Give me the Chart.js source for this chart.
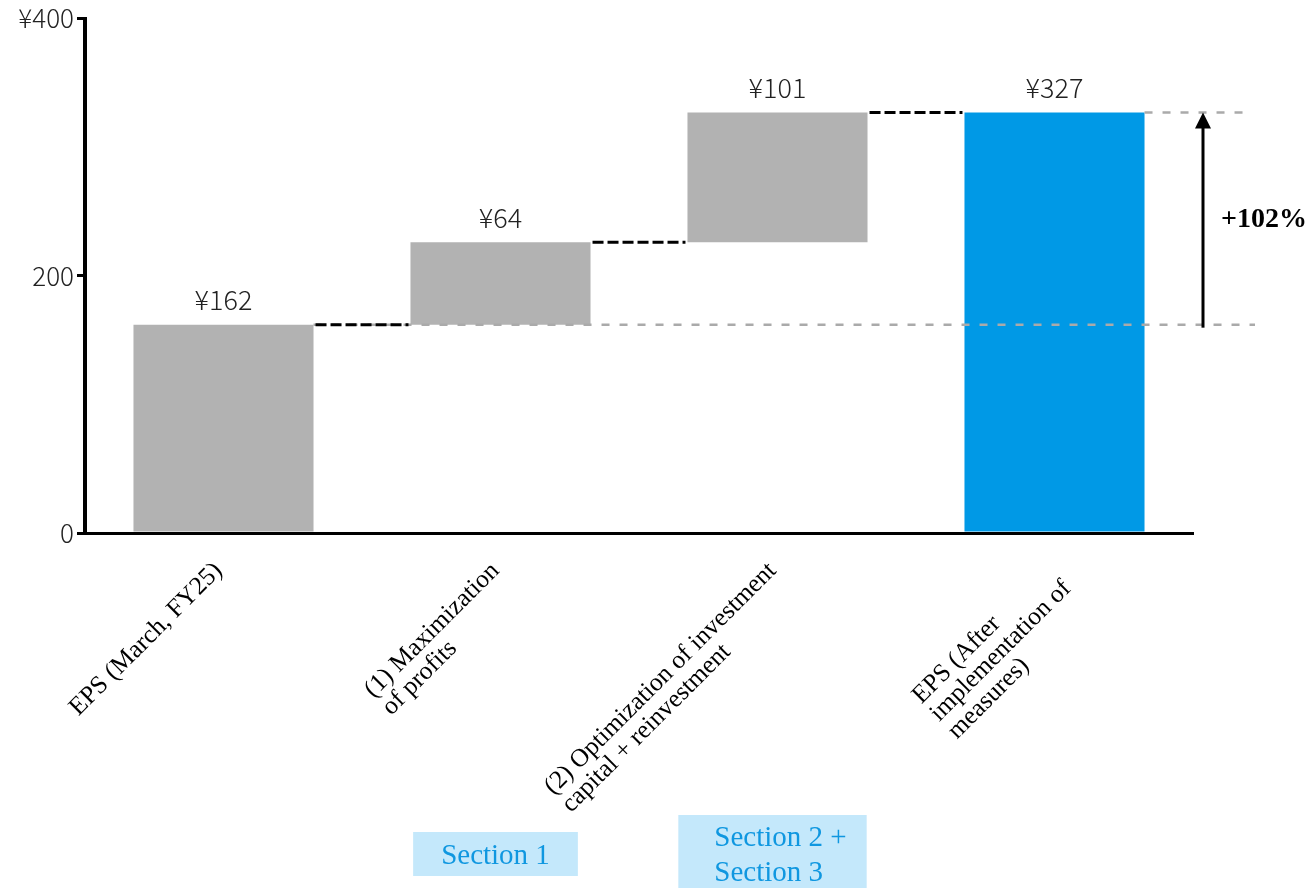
<!DOCTYPE html>
<html>
<head>
<meta charset="utf-8">
<script src="https://cdn.jsdelivr.net/npm/chart.js@4.4.0/dist/chart.umd.min.js"></script>
<style>
  html, body { margin: 0; padding: 0; background: #fff; }
  .chart-wrapper { position: relative; width: 1309px; height: 888px; }
</style>
</head>
<body>
<div class="chart-wrapper">
  <canvas id="epsBridge" width="1309" height="888"></canvas>
</div>
<script>
  // steps of the bridge, one entry per line of the rotated label
  const stepLabels = [
    ['EPS (March, FY25)'],
    ['(1) Maximization', 'of profits'],
    ['(2) Optimization of investment', 'capital + reinvestment'],
    ['EPS (After', 'implementation of', 'measures)'],
  ];
  // EPS in yen: starting total, two increments, resulting total
  const stepValues = [162, 64, 101, 327];
  const stepKinds = ['total', 'delta', 'delta', 'total'];

  const yTicks = [0, 200, 400];
  const yTickLabels = ['0', '200', '¥400'];

  const sectionLabels = [['Section 1'], ['Section 2 +', 'Section 3']];
  const sectionSteps = [1, 2];

  // colours and fonts
  const greyBar = '#b2b2b2';
  const blueBar = '#0099e6';
  const sansFont = '"Noto Sans CJK JP", "Noto Sans", sans-serif';
  const serifFont = '"Liberation Serif", serif';

  // floating ranges for the waterfall
  let running = 0;
  const ranges = stepValues.map((v, i) => {
    if (stepKinds[i] === 'total') {
      running = v;
      return [0, v];
    }
    const r = [running, running + v];
    running += v;
    return r;
  });
  const barColors = stepValues.map((v, i) => (i === stepValues.length - 1 ? blueBar : greyBar));

  function dashedLine(ctx, x1, y1, x2, y2, color, width, dash) {
    ctx.save();
    ctx.strokeStyle = color;
    ctx.lineWidth = width;
    ctx.setLineDash(dash);
    ctx.beginPath();
    ctx.moveTo(x1, y1);
    ctx.lineTo(x2, y2);
    ctx.stroke();
    ctx.restore();
  }

  const bridgeDecor = {
    id: 'bridgeDecor',
    afterDatasetsDraw(chart) {
      const ctx = chart.ctx;
      const area = chart.chartArea;
      const xs = chart.scales.x;
      const ys = chart.scales.y;
      const bars = chart.getDatasetMeta(0).data;
      const right = (b) => b.x + b.width / 2;
      const left = (b) => b.x - b.width / 2;

      // reference lines for start and end levels
      const startY = ys.getPixelForValue(ranges[0][1]);
      const endY = ys.getPixelForValue(ranges[ranges.length - 1][1]);
      dashedLine(ctx, right(bars[0]), startY, area.right + 62, startY, '#aaaaaa', 2.5, [8, 10]);
      dashedLine(ctx, right(bars[bars.length - 1]), endY, area.right + 57, endY, '#aaaaaa', 2.5, [8, 10]);

      // connectors between consecutive bars
      for (let i = 0; i < bars.length - 1; i++) {
        const y = ys.getPixelForValue(ranges[i][1]);
        dashedLine(ctx, right(bars[i]) + 2, y, left(bars[i + 1]) - 2, y, '#000', 3, [11, 4]);
      }

      // growth arrow
      const ax = area.right + 10;
      ctx.save();
      ctx.strokeStyle = '#000';
      ctx.fillStyle = '#000';
      ctx.lineWidth = 3;
      ctx.beginPath();
      ctx.moveTo(ax, startY + 3);
      ctx.lineTo(ax, endY + 12);
      ctx.stroke();
      ctx.beginPath();
      ctx.moveTo(ax, endY);
      ctx.lineTo(ax - 8, endY + 16);
      ctx.lineTo(ax + 8, endY + 16);
      ctx.closePath();
      ctx.fill();
      const growth = Math.round((stepValues[stepValues.length - 1] / stepValues[0] - 1) * 100);
      ctx.font = 'bold 28px ' + serifFont;
      ctx.textAlign = 'center';
      ctx.textBaseline = 'middle';
      ctx.fillText('+' + growth + '%', area.right + 71, (startY + endY) / 2 + 1);
      ctx.restore();

      // value labels above the bars
      ctx.save();
      ctx.font = '300 27px ' + sansFont;
      ctx.fillStyle = '#222';
      ctx.textAlign = 'center';
      ctx.textBaseline = 'middle';
      bars.forEach((b, i) => {
        const top = ys.getPixelForValue(ranges[i][1]);
        ctx.fillText('¥' + stepValues[i], b.x, top - 25);
      });
      ctx.restore();

      // rotated category labels, lines left aligned
      ctx.save();
      ctx.font = '25.5px ' + serifFont;
      ctx.fillStyle = '#000';
      ctx.textAlign = 'left';
      ctx.textBaseline = 'top';
      const lh = 25;
      stepLabels.forEach((lines, i) => {
        const cx = xs.getPixelForValue(i);
        const w = Math.max(...lines.map((l) => ctx.measureText(l).width));
        ctx.save();
        ctx.translate(cx - 14, area.bottom + 25);
        ctx.rotate(-Math.PI / 4);
        lines.forEach((l, j) => ctx.fillText(l, -w, j * lh));
        ctx.restore();
      });
      ctx.restore();

      // section tags under the steps
      ctx.save();
      ctx.font = '29px ' + serifFont;
      ctx.textBaseline = 'middle';
      ctx.textAlign = 'left';
      const tagLh = 35;
      sectionLabels.forEach((lines, k) => {
        const cx = xs.getPixelForValue(sectionSteps[k]) - 5;
        const w = Math.max(...lines.map((l) => ctx.measureText(l).width));
        const boxW = w + 56;
        const boxH = lines.length * 34 + 10;
        const boxL = cx - boxW / 2;
        ctx.fillStyle = '#c4e8fb';
        ctx.fillRect(boxL, 854 - boxH / 2, boxW, boxH);
        ctx.fillStyle = '#0f97e0';
        lines.forEach((l, j) => {
          ctx.fillText(l, boxL + 28 + (lines.length > 1 ? 8 : 0), 856 - ((lines.length - 1) * tagLh) / 2 + j * tagLh);
        });
      });
      ctx.restore();
    },
  };

  const ctx = document.getElementById('epsBridge').getContext('2d');
  new Chart(ctx, {
    type: 'bar',
    data: {
      labels: stepLabels,
      datasets: [
        {
          data: ranges,
          backgroundColor: barColors,
          borderWidth: 0,
          categoryPercentage: 1,
          barPercentage: 0.65,
        },
      ],
    },
    options: {
      responsive: false,
      devicePixelRatio: 1,
      animation: false,
      layout: { padding: { left: 0, right: 116, top: 18, bottom: 0 } },
      plugins: {
        legend: { display: false },
        tooltip: { enabled: false },
      },
      scales: {
        x: {
          grid: { display: false },
          ticks: { display: false },
          border: { color: '#000', width: 3 },
          afterFit: (s) => { s.height = 355; },
        },
        y: {
          min: 0,
          max: 400,
          afterBuildTicks: (s) => { s.ticks = yTicks.map((v) => ({ value: v })); },
          ticks: {
            callback: (v) => yTickLabels[yTicks.indexOf(v)],
            font: { family: sansFont, size: 26, weight: 300 },
            color: '#222',
            padding: 3,
          },
          grid: { drawOnChartArea: false, tickLength: 8, color: '#000', lineWidth: 3 },
          border: { color: '#000', width: 4 },
          afterFit: (s) => { s.width = 85; },
        },
      },
    },
    plugins: [bridgeDecor],
  });
</script>
</body>
</html>
